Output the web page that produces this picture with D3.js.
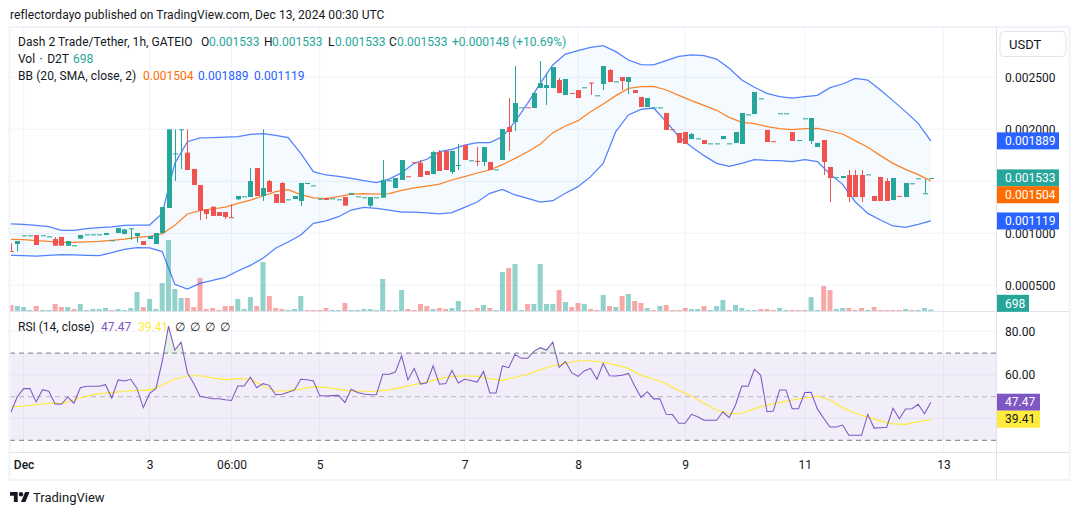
<!DOCTYPE html>
<html>
<head>
<meta charset="utf-8">
<script src="https://cdn.jsdelivr.net/npm/d3@7"></script>
<style>
  body { margin: 0; background: #fff; }
  text { font-family: Roboto, "Noto Sans", sans-serif; font-size: 12px; fill: #131722; }
  .domain { display: none; }
</style>
</head>
<body>
<svg id="chart" width="1080" height="515"></svg>
<script>
// ! data, prices are in millionths of USDT (1533 = 0.001533)
const opens = [
  830,897,981,981,984,981,971,945,965,881,
  885,949,990,990,990,984,933,1003,993,1045,
  974,926,945,897,1003,1244,1769,2000,1776,1619,
  1465,1231,1256,1205,1205,1155,1327,1356,1349,1628,
  1359,1503,1378,1484,1327,1330,1311,1484,1461,1333,
  1340,1336,1327,1349,1372,1356,1346,1266,1346,1343,
  1510,1436,1513,1549,1684,1679,1599,1570,1782,1792,
  1590,1654,1849,1702,1696,1686,1686,1615,1705,2022,
  2070,2211,2212,2205,2397,2397,2397,2474,2330,2350,
  2378,2404,2449,2327,2436,2570,2461,2503,2455,2378,
  2311,2215,2211,2211,2157,2000,1965,1974,1907,1913,
  1897,1865,1865,1907,1865,1869,1859,2144,2147,2298,
  1994,1886,2154,2154,1974,1897,2106,1888,1830,1897,
  1638,1539,1532,1561,1561,1561,1567,1359,1542,1503,
  1320,1360,1349,1481,1529,1384,1533
];
const highs = [
  904,926,981,981,984,981,971,965,965,926,
  885,984,990,990,990,1003,933,1051,1038,1048,
  1003,926,974,1003,1253,2000,2000,2000,2000,1619,
  1465,1231,1256,1205,1205,1279,1359,1356,1628,1628,
  2000,1513,1378,1493,1327,1359,1484,1484,1461,1333,
  1340,1336,1327,1349,1388,1356,1346,1349,1346,1705,
  1510,1532,1705,1549,1684,1705,1599,1792,1801,1792,
  1792,1859,1849,1702,1830,1830,1686,1615,2003,2301,
  2609,2211,2212,2349,2657,2538,2599,2494,2484,2350,
  2378,2404,2449,2327,2609,2580,2461,2503,2503,2378,
  2311,2301,2211,2211,2157,2000,1965,1974,1965,1913,
  1897,1865,1865,1936,1865,1974,2157,2144,2359,2298,
  1994,1886,2154,2154,1974,1897,2106,2109,1869,1897,
  1638,1539,1551,1609,1609,1609,1567,1359,1542,1532,
  1532,1360,1484,1481,1529,1522,1533
];
const lows = [
  824,824,981,981,888,981,971,881,881,881,
  885,949,990,990,990,984,933,1003,993,936,
  910,888,945,897,1003,1244,1503,1618,1609,1465,
  1128,1138,1167,1167,1138,1153,1320,1356,1349,1359,
  1311,1397,1292,1292,1327,1330,1263,1484,1461,1333,
  1320,1336,1327,1266,1372,1356,1346,1250,1346,1343,
  1510,1436,1513,1548,1683,1542,1561,1570,1599,1609,
  1570,1609,1705,1702,1647,1647,1609,1615,1705,1792,
  1984,2211,2211,2205,2397,2234,2397,2349,2330,2349,
  2301,2404,2330,2327,2378,2455,2461,2378,2340,2349,
  2215,2215,2211,2211,1994,1999,1869,1859,1907,1913,
  1859,1865,1865,1907,1865,1869,1859,2144,2147,2298,
  1878,1885,2154,2154,1888,1897,2106,1859,1830,1561,
  1301,1539,1532,1301,1349,1301,1567,1311,1311,1311,
  1320,1359,1349,1481,1529,1384,1533
];
const closes = [
  824,926,981,981,888,981,971,881,881,926,
  885,984,990,990,990,1003,933,1051,1038,1048,
  1003,888,974,1003,1253,2000,1769,2000,1609,1465,
  1218,1186,1167,1167,1157,1153,1359,1356,1503,1359,
  1436,1397,1292,1292,1327,1359,1484,1484,1461,1333,
  1320,1336,1327,1266,1388,1356,1346,1349,1346,1513,
  1510,1532,1705,1548,1683,1542,1561,1782,1599,1609,
  1792,1657,1705,1702,1694,1830,1609,1615,2003,1974,
  2253,2211,2211,2349,2445,2426,2599,2349,2484,2349,
  2301,2404,2447,2327,2609,2455,2461,2465,2503,2349,
  2215,2301,2211,2211,1994,1999,1869,1859,1955,1913,
  1859,1865,1865,1936,1865,1974,2157,2144,2359,2298,
  1878,1885,2154,2154,1888,1897,2106,2109,1869,1686,
  1532,1539,1551,1349,1349,1349,1567,1311,1311,1311,
  1532,1359,1484,1481,1529,1385,1533
];
const volumes = [
  3000,2500,2000,500,2500,500,500,3500,2000,2000,
  1000,3500,500,1000,1000,1500,500,1000,500,1500,
  9500,2000,6000,1000,14000,35500,11000,6500,6500,2000,
  16500,1000,1500,500,2500,2500,6000,1000,7000,2500,
  24500,7500,1500,1000,500,1000,7500,500,500,500,
  1500,500,500,4000,500,500,1000,1000,500,16000,
  500,500,10500,1000,500,3500,2500,1000,1500,1000,
  1500,5000,500,500,1500,3000,1500,500,19500,21500,
  23500,500,3500,3500,23500,3500,3500,10500,4500,2000,
  4000,3500,1000,500,8000,2500,2000,7500,8500,5000,
  4000,1500,500,2500,3000,500,500,1500,1000,1000,
  2500,500,2500,5500,500,3000,1500,500,500,1000,
  1000,500,1500,500,500,500,500,7000,500,12500,
  10500,1000,1500,1500,500,1500,500,2000,500,500,
  500,500,1000,500,500,1500,698
];
// 1 = green volume bar, 0 = red
const volumeUp = [
  0,1,1,1,0,1,1,0,0,1,
  0,1,1,1,1,1,0,1,1,1,
  1,0,1,1,1,1,1,1,0,0,
  0,0,0,0,0,0,1,1,1,0,
  1,0,0,0,1,1,1,0,0,0,
  0,1,1,0,1,1,1,1,1,1,
  0,1,1,0,0,0,0,1,0,0,
  1,1,0,0,0,1,0,1,1,0,
  1,1,0,1,1,1,1,0,1,0,
  0,1,0,0,1,0,1,0,1,0,
  0,1,0,1,0,0,0,0,1,1,
  0,1,1,1,0,1,1,1,1,0,
  0,0,1,1,0,0,0,1,1,0,
  0,1,1,0,0,0,1,0,0,0,
  0,0,1,0,1,1,1
];

// the bands and the rsi average were read at every second bar
const sampledBars = d3.range(0, 147, 2);
const bbUpper = [
  1090,1086,1077,1064,1029,1029,1045,1054,1061,1077,1080,1080,1192,1673,1881,1917,1920,1926,1929,1952,
  1958,1942,1920,1769,1593,1561,1548,1529,1506,1487,1522,1583,1673,1712,1785,1808,1849,1872,1872,1929,
  2074,2250,2442,2619,2724,2756,2788,2804,2747,2667,2622,2619,2660,2702,2715,2708,2676,2587,2474,2404,
  2346,2314,2301,2314,2327,2401,2436,2490,2474,2378,2276,2170,2058,1889
];
const bbBasis = [
  942,939,929,923,913,913,917,923,933,945,962,971,994,1077,1186,1218,1234,1253,1288,1320,
  1359,1401,1420,1372,1340,1333,1352,1378,1381,1378,1381,1413,1436,1455,1474,1513,1545,1580,1609,1660,
  1721,1785,1856,1968,2032,2083,2170,2244,2324,2394,2410,2413,2378,2327,2276,2231,2183,2115,2067,2054,
  2026,2006,1997,2006,2010,1984,1955,1891,1827,1747,1673,1615,1564,1504
];
const bbLower = [
  788,785,782,788,795,792,788,785,814,846,862,859,824,510,465,519,548,577,638,692,
  760,856,917,984,1096,1119,1160,1224,1250,1240,1224,1205,1205,1196,1186,1199,1250,1301,1385,1423,
  1369,1336,1301,1314,1385,1449,1545,1673,1978,2138,2192,2205,2074,1929,1833,1747,1673,1644,1673,1708,
  1702,1699,1689,1708,1689,1570,1471,1304,1192,1128,1071,1058,1087,1119
];

const rsi = [
  43.0,50.0,53.7,53.7,47.6,53.2,52.5,46.7,46.5,49.9,
  47.0,54.1,54.8,54.8,54.8,55.5,49.4,57.7,57.2,58.0,
  53.8,45.0,51.5,53.7,66.1,82.4,71.4,75.0,61.0,56.1,
  50.2,49.6,49.1,49.1,48.6,48.3,54.9,54.9,58.9,54.1,
  56.0,55.2,50.9,51.1,52.0,53.1,58.0,57.8,57.2,50.5,
  50.3,50.5,50.6,47.3,53.4,51.9,51.2,50.9,50.9,60.3,
  60.3,61.3,68.8,57.7,63.0,55.8,56.4,64.2,55.7,56.0,
  62.0,56.3,58.0,57.4,56.7,61.6,51.7,51.7,64.1,63.3,
  69.4,67.6,67.6,70.8,72.5,71.4,75.0,63.5,66.1,61.0,
  59.3,61.8,63.0,58.0,65.2,59.6,59.5,59.8,60.7,54.9,
  49.7,52.3,49.0,49.0,41.9,41.8,37.8,37.8,41.9,40.8,
  39.2,39.2,39.2,43.1,40.4,46.2,54.9,54.8,62.6,59.8,
  43.1,43.4,53.1,53.1,44.5,44.5,51.9,52.0,44.4,40.1,
  36.1,36.1,37.0,32.3,32.3,32.3,41.9,35.6,35.8,36.0,
  44.7,39.9,44.4,44.5,46.5,42.2,47.47
];
const rsiMa = [
  45.4,45.7,46.3,46.9,46.9,48.5,50.3,51.4,51.9,52.5,52.9,52.9,55.4,58.1,59.6,59.6,58.6,57.8,58.3,58.1,
  54.9,52.5,52.8,53.5,54.6,54.3,53.4,52.6,52.5,52.6,53.1,54.3,55.5,56.6,58.3,59.2,59.6,59.3,58.3,57.5,
  58.9,60.3,62.3,64.2,65.3,66.5,66.5,65.8,64.5,63.0,59.8,58.1,55.8,52.8,50.3,47.0,43.9,42.2,42.4,44.4,
  46.2,47.3,48.5,49.4,50.3,48.5,45.0,42.4,40.5,38.9,37.5,37.3,38.5,39.41
];

// tick labels and the bars they sit on
const timeTickBars = [2, 22, 35, 49, 72, 90, 107, 126, 148];
const timeTickLabels = ["Dec", "3", "06:00", "5", "7", "8", "9", "11", "13"];
const priceGridTicks = [2500, 2000, 1500, 1000, 500];
// 0.001500 has no label, the scale labels cover it
const priceAxisTicks = [2500, 2000, 1000, 500];
const rsiGridTicks = [80, 60, 40];
const rsiAxisTicks = [80, 60];
const rsiLevels = [70, 50, 30];

const green = "#26a69a", red = "#ef5350", blue = "#2962ff", orange = "#ff6d00",
  purple = "#7e57c2", yellow = "#ffeb3b", gridColor = "#f0f3fa", borderColor = "#e0e3eb";

const svg = d3.select("#chart");
const plotLeft = 10, plotRight = 996.5;

// scales
const x = d3.scaleLinear().domain([0, 146]).range([11, 930.8]);
const y = d3.scaleLinear().domain([2500, 500]).range([77.33, 285.33]);
const yVolume = d3.scaleLinear().domain([0, 35500]).range([311, 240]);
const yRsi = d3.scaleLinear().domain([80, 30]).range([331.3, 440.3]);

const fmtPrice = p => (p / 1e6).toFixed(6);

svg.append("defs").append("clipPath").attr("id", "plot-clip")
  .append("rect").attr("x", plotLeft).attr("y", 28).attr("width", plotRight - plotLeft).attr("height", 424);
svg.append("defs").append("clipPath").attr("id", "over-clip")
  .append("rect").attr("x", plotLeft).attr("y", 312).attr("width", plotRight - plotLeft).attr("height", yRsi(70) - 312);

// grid
const grid = svg.append("g");
grid.selectAll(".v").data(timeTickBars).enter().append("line")
  .attr("x1", d => x(d)).attr("x2", d => x(d)).attr("y1", 28).attr("y2", 452)
  .attr("stroke", gridColor);
grid.selectAll(".h").data(priceGridTicks).enter().append("line")
  .attr("x1", plotLeft).attr("x2", plotRight).attr("y1", d => y(d)).attr("y2", d => y(d))
  .attr("stroke", gridColor);
grid.selectAll(".r").data(rsiGridTicks).enter().append("line")
  .attr("x1", plotLeft).attr("x2", plotRight).attr("y1", d => yRsi(d)).attr("y2", d => yRsi(d))
  .attr("stroke", gridColor);

const plot = svg.append("g").attr("clip-path", "url(#plot-clip)");

// volume bars
plot.selectAll(".vol").data(volumes).enter().append("rect")
  .attr("x", (d, i) => x(i) - 2.5)
  .attr("y", d => yVolume(d))
  .attr("width", 5)
  .attr("height", d => yVolume(0) - yVolume(d))
  .attr("fill", (d, i) => volumeUp[i] ? green : red)
  .attr("fill-opacity", 0.5);

// bollinger bands
const bandArea = d3.area()
  .x((d, i) => x(sampledBars[i]))
  .y0((d, i) => y(bbLower[i]))
  .y1(d => y(d));
const bandLine = d3.line().x((d, i) => x(sampledBars[i])).y(d => y(d));
plot.append("path").attr("d", bandArea(bbUpper)).attr("fill", "#2196f3").attr("fill-opacity", 0.05);
plot.append("path").attr("d", bandLine(bbUpper)).attr("fill", "none").attr("stroke", blue).attr("stroke-opacity", 0.8).attr("stroke-width", 1.25);
plot.append("path").attr("d", bandLine(bbLower)).attr("fill", "none").attr("stroke", blue).attr("stroke-opacity", 0.8).attr("stroke-width", 1.25);
plot.append("path").attr("d", bandLine(bbBasis)).attr("fill", "none").attr("stroke", orange).attr("stroke-opacity", 0.85).attr("stroke-width", 1.25);

// candles
const candleColor = i => closes[i] >= opens[i] ? green : red;
plot.selectAll(".wick").data(closes).enter().append("line")
  .attr("x1", (d, i) => Math.round(x(i)) + 0.5).attr("x2", (d, i) => Math.round(x(i)) + 0.5)
  .attr("y1", (d, i) => y(highs[i])).attr("y2", (d, i) => y(lows[i]))
  .attr("stroke", (d, i) => candleColor(i));
plot.selectAll(".body").data(closes).enter().append("rect")
  .attr("x", (d, i) => Math.round(x(i)) - 2)
  .attr("y", (d, i) => y(Math.max(opens[i], d)))
  .attr("width", 5)
  .attr("height", (d, i) => Math.max(1, Math.abs(y(opens[i]) - y(d))))
  .attr("fill", (d, i) => candleColor(i));

// rsi pane
plot.append("rect")
  .attr("x", plotLeft).attr("width", plotRight - plotLeft)
  .attr("y", yRsi(70)).attr("height", yRsi(30) - yRsi(70))
  .attr("fill", purple).attr("fill-opacity", 0.1);
plot.selectAll(".level").data(rsiLevels).enter().append("line")
  .attr("x1", plotLeft).attr("x2", plotRight).attr("y1", d => yRsi(d)).attr("y2", d => yRsi(d))
  .attr("stroke", "#787b86")
  .attr("stroke-opacity", d => d === 50 ? 0.5 : 1)
  .attr("stroke-dasharray", "5 4");
// green tint where rsi goes over 70
plot.append("g").attr("clip-path", "url(#over-clip)").append("path")
  .attr("d", d3.area().x((d, i) => x(i)).y0(yRsi(70)).y1(d => yRsi(d))(rsi))
  .attr("fill", "#4caf50").attr("fill-opacity", 0.15);
plot.append("path")
  .attr("d", d3.line().x((d, i) => x(sampledBars[i])).y(d => yRsi(d))(rsiMa))
  .attr("fill", "none").attr("stroke", yellow).attr("stroke-width", 1.2);
plot.append("path")
  .attr("d", d3.line().x((d, i) => x(i)).y(d => yRsi(d))(rsi))
  .attr("fill", "none").attr("stroke", purple).attr("stroke-width", 1.05);

// axes
const priceAxis = svg.append("g").attr("transform", "translate(997,0)")
  .call(d3.axisRight(y).tickValues(priceAxisTicks).tickSize(0).tickPadding(8).tickFormat(fmtPrice));
const rsiAxis = svg.append("g").attr("transform", "translate(997,0)")
  .call(d3.axisRight(yRsi).tickValues(rsiAxisTicks).tickSize(0).tickPadding(8).tickFormat(d => d.toFixed(2)));
const timeAxis = svg.append("g").attr("transform", "translate(0,452)")
  .call(d3.axisBottom(x).tickValues(timeTickBars).tickSize(0).tickPadding(8)
    .tickFormat((d, i) => timeTickLabels[i]));
svg.selectAll(".tick text").attr("fill", "#131722").style("font-size", "12px").style("font-family", "Roboto");
timeAxis.selectAll("text").filter((d, i) => i === 0).style("font-weight", 500);

// frame
const frame = svg.append("g").attr("fill", "none").attr("stroke", borderColor);
frame.append("rect").attr("x", 9.5).attr("y", 27).attr("width", 1060).attr("height", 453).attr("stroke-width", 2).attr("stroke", "#f0f3fa");
frame.append("line").attr("x1", plotRight).attr("x2", plotRight).attr("y1", 28).attr("y2", 480);
frame.append("line").attr("x1", 10).attr("x2", 1069).attr("y1", 311.5).attr("y2", 311.5);
frame.append("line").attr("x1", 10).attr("x2", 1069).attr("y1", 452.5).attr("y2", 452.5);

// currency button
svg.append("rect").attr("x", 1000).attr("y", 31.5).attr("width", 66).attr("height", 25).attr("rx", 4)
  .attr("fill", "#fff").attr("stroke", borderColor);
addText(1009, 44, "USDT", "#131722").style("font-size", "13px");

// price scale labels
function scaleLabel(cy, str, bg, fg, w) {
  svg.append("rect").attr("x", 997).attr("y", cy - 8.5).attr("width", w).attr("height", 17).attr("fill", bg);
  return addText(1005, cy, str, fg);
}
function addText(px, py, str, color) {
  return svg.append("text").attr("x", px).attr("y", py).attr("dy", "0.35em")
    .style("fill", color).text(str);
}
scaleLabel(y(1889), fmtPrice(1889), blue, "#fff", 62);
scaleLabel(y(1533), fmtPrice(1533), green, "#fff", 62);
scaleLabel(y(1504) + 13.8, fmtPrice(1504), orange, "#fff", 62);
scaleLabel(y(1119), fmtPrice(1119), blue, "#fff", 62);
scaleLabel(303.3, "698", green, "#fff", 32);
scaleLabel(yRsi(47.47), "47.47", purple, "#fff", 43);
scaleLabel(yRsi(47.47) + 17, "39.41", yellow, "#131722", 43);

// legends
addText(10, 15, "reflectordayo published on TradingView.com, Dec 13, 2024 00:30 UTC", "#131722").style("letter-spacing", "0.075px");
addText(18, 42, "Dash 2 Trade/Tether, 1h, GATEIO", "#131722").style("letter-spacing", "0.06px");
addText(201, 42, "O", "#131722");
addText(209, 42, "0.001533", green);
addText(264, 42, "H", "#131722");
addText(272, 42, "0.001533", green);
addText(328, 42, "L", "#131722");
addText(335, 42, "0.001533", green);
addText(389, 42, "C", "#131722");
addText(397, 42, "0.001533", green);
addText(452, 42, "+0.000148 (+10.69%)", green);
addText(18, 59, "Vol · D2T", "#131722").style("word-spacing", "1.5px");
addText(73, 59, "698", green);
addText(18, 76, "BB (20, SMA, close, 2)", "#131722").style("letter-spacing", "0.08px");
addText(143, 76, fmtPrice(1504), orange);
addText(198, 76, fmtPrice(1889), blue);
addText(254, 76, fmtPrice(1119), blue);
addText(18, 327, "RSI (14, close)", "#131722");
addText(101, 327, "47.47", purple);
addText(138, 327, "39.41", yellow);
[175, 190, 205, 220].forEach(px => addText(px, 327, "∅", "#131722"));

// footer logo
const logo = svg.append("g").attr("transform", "translate(10,489.8) scale(0.55)").attr("fill", "#131722");
logo.append("path").attr("d", "M14 22H7V11H0V4h14v18zM28 22h-8l7.5-18h8L28 22z");
logo.append("circle").attr("cx", 20).attr("cy", 8).attr("r", 4);
addText(33, 497, "TradingView", "#131722").style("font-size", "13px");
</script>
</body>
</html>
